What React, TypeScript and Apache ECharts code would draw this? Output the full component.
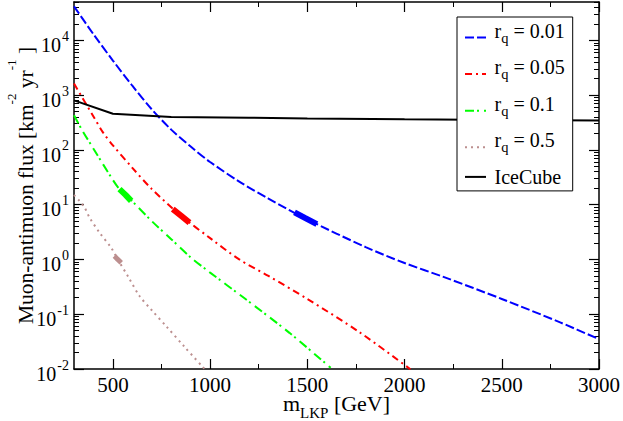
import React, { useEffect, useRef } from "react";
import * as echarts from "echarts";

// ---- tick values / labels ----
const xMajorTicks = [500, 1000, 1500, 2000, 2500, 3000];
const xMinorTicks = [750, 1250, 1750, 2250, 2750];
const yMajorTicks = [0.01, 0.1, 1, 10, 100, 1000, 10000];
const yMinorMultipliers = [2, 3, 4, 5, 6, 7, 8, 9];

// ---- series data (m_LKP in GeV, flux in km^-2 yr^-1) ----
const massRq001 = [300, 400, 500, 600, 700, 800, 900, 1000, 1150, 1300, 1500, 1800, 2000, 2200, 2500, 2800, 3000];
const fluxRq001 = [41700, 12900, 4270, 1480, 550, 234, 115, 60, 26.3, 12.9, 5.37, 1.68, 0.86, 0.48, 0.19, 0.071, 0.035];

const massRq005 = [300, 400, 448, 500, 600, 700, 850, 1000, 1150, 1300, 1500, 1768, 2030];
const fluxRq005 = [1620, 408, 211, 121, 47, 19.3, 6.3, 2.45, 1.0, 0.5, 0.19, 0.047, 0.0099];

const massRq01 = [300, 345, 400, 500, 534, 565, 600, 700, 800, 903, 1000, 1177, 1408, 1620];
const fluxRq01 = [427, 219, 105, 28.2, 19.1, 15.1, 11.5, 5.0, 2.34, 1.07, 0.575, 0.195, 0.0457, 0.0105];

const massRq05 = [300, 328, 354, 380, 431, 491, 525, 580, 637, 700, 774, 870, 975];
const fluxRq05 = [15, 11.7, 8.9, 5.8, 3.1, 1.64, 1.0, 0.475, 0.215, 0.118, 0.0605, 0.025, 0.0097];

const massIceCube = [300, 500, 800, 1200, 1500, 2000, 2500, 3000];
const fluxIceCube = [800, 457, 400, 386, 375, 362, 352, 345];

// highlighted (thick) segments
const massThick001 = [1434, 1490, 1549];
const fluxThick001 = [7.2, 5.66, 4.4];
const massThick005 = [808, 850, 894];
const fluxThick005 = [8.3, 6.3, 4.7];
const massThick01 = [534, 565, 594];
const fluxThick01 = [19.2, 15.1, 11.7];
const massThick05 = [508, 525, 543];
const fluxThick05 = [1.15, 1.0, 0.87];

const seriesNames = ["r_q = 0.01", "r_q = 0.05", "r_q = 0.1", "r_q = 0.5", "IceCube"];
const colors = ["#0000ff", "#ff0000", "#00ff00", "#bc8f8f", "#000000"];

const FONT = "Liberation Serif";
const X_MIN = 300;
const X_MAX = 3000;
const Y_MIN = 0.01;
const Y_MAX = 50000;

const pairs = (xs: number[], ys: number[]) => xs.map((x, i) => [x, ys[i]]);

export default function App() {
  const ref = useRef<HTMLDivElement>(null);

  useEffect(() => {
    if (!ref.current) return;
    const chart = echarts.init(ref.current, null, { renderer: "svg" });

    const yMinorTicks = yMajorTicks
      .flatMap((d) => yMinorMultipliers.map((k) => k * d))
      .filter((v) => v <= Y_MAX);

    const frameLine = { show: true, onZero: false, lineStyle: { color: "#000", width: 1.5 } };
    const noLine = { show: false, onZero: false };

    const xBase = { type: "value", min: X_MIN, max: X_MAX, splitLine: { show: false }, axisLabel: { show: false } };
    const yBase = { type: "log", logBase: 10, min: Y_MIN, max: Y_MAX, splitLine: { show: false }, axisLabel: { show: false } };

    const lineSeries = (name: string, xs: number[], ys: number[], color: string, type: any, width = 2, smooth: any = 0.3) => ({
      name,
      type: "line",
      data: pairs(xs, ys),
      symbol: "none",
      smooth,
      lineStyle: { color, width, type },
      itemStyle: { color },
      clip: true,
    });

    const option: any = {
      animation: false,
      backgroundColor: "#fff",
      textStyle: { fontFamily: FONT, color: "#000" },
      grid: { left: 74, right: 24, top: 2, bottom: 52, containLabel: false, outerBoundsMode: "none" },
      xAxis: [
        {
          ...xBase,
          position: "bottom",
          axisLine: frameLine,
          axisTick: { show: true, inside: true, length: 10, customValues: xMajorTicks, lineStyle: { color: "#000", width: 1.2 } },
          name: "{a|m}{s|LKP}{a| [GeV]}",
          nameLocation: "middle",
          nameGap: 26,
          nameMoveOverlap: false,
          nameTextStyle: {
            fontFamily: FONT,
            rich: {
              a: { fontSize: 22, fontFamily: FONT, color: "#000", lineHeight: 16 },
              s: { fontSize: 15, fontFamily: FONT, color: "#000", lineHeight: 16, padding: [20, 0, 0, 0] },
            },
          },
        },
        {
          ...xBase,
          position: "bottom",
          axisLine: noLine,
          axisTick: { show: true, inside: true, length: 5, customValues: xMinorTicks, lineStyle: { color: "#000", width: 1 } },
        },
        {
          ...xBase,
          position: "top",
          axisLine: frameLine,
          axisTick: { show: true, inside: true, length: 10, customValues: xMajorTicks, lineStyle: { color: "#000", width: 1.2 } },
        },
        {
          ...xBase,
          position: "top",
          axisLine: noLine,
          axisTick: { show: true, inside: true, length: 5, customValues: xMinorTicks, lineStyle: { color: "#000", width: 1 } },
        },
      ],
      yAxis: [
        {
          ...yBase,
          position: "left",
          axisLine: frameLine,
          axisTick: { show: true, inside: true, length: 10, customValues: yMajorTicks, lineStyle: { color: "#000", width: 1.2 } },
          name: "{a|Muon-antimuon flux [km}{s|-2}{a| yr}{s|-1}{a| ]}",
          nameLocation: "middle",
          nameGap: 36,
          nameMoveOverlap: false,
          nameTextStyle: {
            fontFamily: FONT,
            rich: {
              a: { fontSize: 21.5, fontFamily: FONT, color: "#000", lineHeight: 24 },
              s: { fontSize: 13, fontFamily: FONT, color: "#000", lineHeight: 24, padding: [0, 0, 30, 0] },
            },
          },
        },
        {
          ...yBase,
          position: "left",
          axisLine: noLine,
          axisTick: { show: true, inside: true, length: 5, customValues: yMinorTicks, lineStyle: { color: "#000", width: 1 } },
        },
        {
          ...yBase,
          position: "right",
          axisLine: frameLine,
          axisTick: { show: true, inside: true, length: 10, customValues: yMajorTicks, lineStyle: { color: "#000", width: 1.2 } },
        },
        {
          ...yBase,
          position: "right",
          axisLine: noLine,
          axisTick: { show: true, inside: true, length: 5, customValues: yMinorTicks, lineStyle: { color: "#000", width: 1 } },
        },
      ],
      legend: {
        data: seriesNames,
        orient: "vertical",
        left: 457,
        top: 17,
        itemWidth: 21,
        itemHeight: 14,
        itemGap: 2.6,
        padding: [3.5, 8, 4, 7],
        borderColor: "#000",
        borderWidth: 1,
        backgroundColor: "#fff",
        selectedMode: false,
        itemStyle: { opacity: 0 },
        formatter: (name: string) =>
          name.startsWith("r_q") ? `{r|r}{q|q}{t|${name.slice(3)}}` : `{n|${name}}`,
        textStyle: {
          fontFamily: FONT,
          color: "#000",
          rich: {
            r: { fontSize: 20, fontFamily: FONT, color: "#000", lineHeight: 30, padding: [0, 0, 14, 3.5] },
            q: { fontSize: 14.5, fontFamily: FONT, color: "#000", lineHeight: 30 },
            t: { fontSize: 20, fontFamily: FONT, color: "#000", lineHeight: 30, padding: [0, 0, 14, 0] },
            n: { fontSize: 20, fontFamily: FONT, color: "#000", lineHeight: 18, padding: [0, 0, 0, 3.5] },
          },
        },
      },
      series: [
        lineSeries(seriesNames[0], massRq001, fluxRq001, colors[0], [9, 3]),
        lineSeries(seriesNames[1], massRq005, fluxRq005, colors[1], [7, 4, 2, 4]),
        lineSeries(seriesNames[2], massRq01, fluxRq01, colors[2], [9, 3, 2, 5]),
        lineSeries(seriesNames[3], massRq05, fluxRq05, colors[3], [2, 4]),
        lineSeries("thick001", massThick001, fluxThick001, colors[0], "solid", 6, false),
        lineSeries("thick005", massThick005, fluxThick005, colors[1], "solid", 6, false),
        lineSeries("thick01", massThick01, fluxThick01, colors[2], "solid", 6, false),
        lineSeries("thick05", massThick05, fluxThick05, colors[3], "solid", 5, false),
        lineSeries(seriesNames[4], massIceCube, fluxIceCube, colors[4], "solid", 2, false),
        {
          name: "xTickLabels",
          type: "custom",
          coordinateSystem: "cartesian2d",
          clip: false,
          silent: true,
          z: 10,
          data: xMajorTicks.map((v) => [v, Y_MIN]),
          renderItem: (_params: any, api: any) => {
            const p = api.coord([api.value(0), api.value(1)]);
            return {
              type: "text",
              x: p[0],
              y: p[1] + 15.5,
              style: {
                text: String(api.value(0)),
                font: '21px "Liberation Serif", "Times New Roman", serif',
                fill: "#000",
                align: "center",
                verticalAlign: "middle",
                lineHeight: 15,
              },
            };
          },
        },
        {
          name: "yTickLabels",
          type: "custom",
          coordinateSystem: "cartesian2d",
          clip: false,
          silent: true,
          z: 10,
          data: yMajorTicks.map((v) => [X_MIN, v]),
          renderItem: (_params: any, api: any) => {
            const v = api.value(1);
            const p = api.coord([api.value(0), v]);
            return {
              type: "text",
              x: p[0] - 5,
              y: p[1],
              style: {
                text: `{b|10}{s|${Math.round(Math.log10(v))}}`,
                font: '20px "Liberation Serif", "Times New Roman", serif',
                fill: "#000",
                align: "right",
                verticalAlign: "middle",
                rich: {
                  b: { font: '20px "Liberation Serif", "Times New Roman", serif', fill: "#000", lineHeight: 20, padding: [9.5, 0, 0, 0] },
                  s: { font: '14px "Liberation Serif", "Times New Roman", serif', fill: "#000", lineHeight: 20, padding: [0, 0, 8, 1] },
                },
              },
            };
          },
        },
      ],
    };

    chart.setOption(option);
    return () => chart.dispose();
  }, []);

  return (
    <div
      ref={ref}
      style={{ position: "fixed", left: 0, top: 0, width: 623, height: 421, background: "#fff" }}
    />
  );
}
